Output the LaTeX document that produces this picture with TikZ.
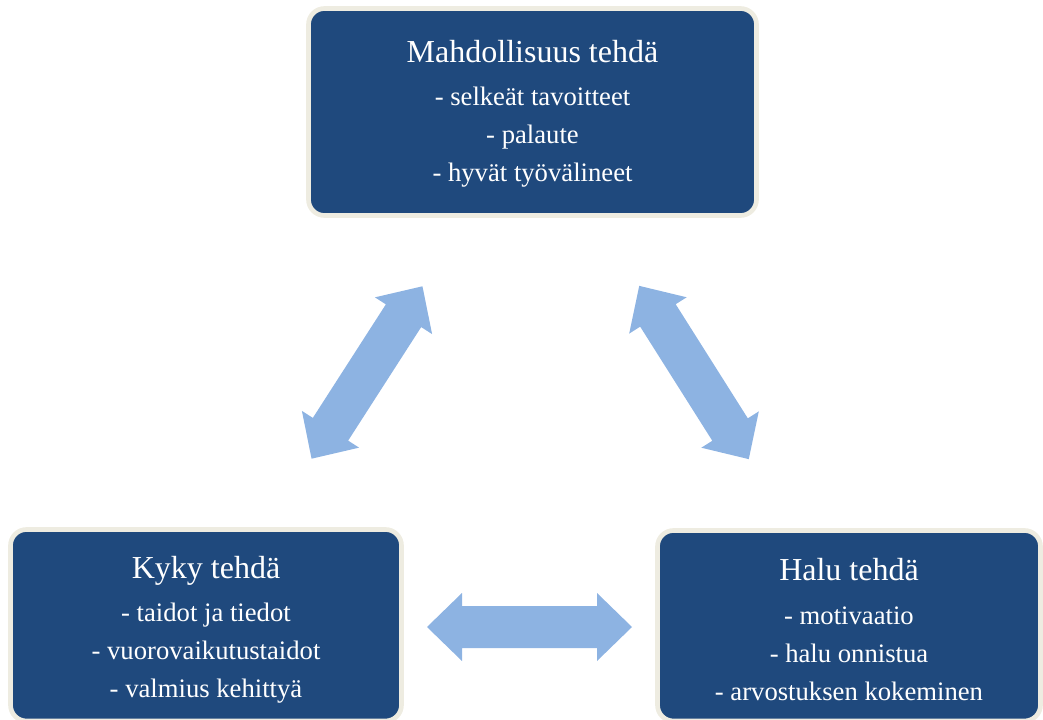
\documentclass[tikz,border=0pt]{standalone}
\usepackage{fontspec}
\setmainfont{Liberation Serif}
\definecolor{boxblue}{HTML}{1F497D}
\definecolor{boxrim}{HTML}{EEECE1}
\definecolor{arrowblue}{HTML}{8DB3E2}
\tikzset{
  infobox/.style={draw=boxrim, line width=3.5pt, fill=boxblue, rounded corners=12pt,
    inner sep=0pt},
  boxtext/.style={text=white, align=center, inner sep=0pt,
    font=\fontsize{20}{28.5}\selectfont},
  blockarrow/.style={fill=arrowblue, draw=none}
}
% double-headed block arrow: centre, rotation angle
\newcommand\twowayarrow[2]{%
  \fill[blockarrow, shift={#1}, rotate=#2]
    (-102.5,0) -- (-67.5,34) -- (-67.5,21) -- (67.5,21) -- (67.5,34) -- (102.5,0)
    -- (67.5,-34) -- (67.5,-21) -- (-67.5,-21) -- (-67.5,-34) -- cycle;}
\newcommand\boxtitle[1]{{\fontsize{24}{24}\selectfont #1}\\[4pt]}
\begin{document}
\begin{tikzpicture}[x=0.75pt, y=-0.75pt]
  \useasboundingbox (0,0) rectangle (1043,720);

  % the three boxes
  \node[infobox, minimum width=448*0.75pt, minimum height=207*0.75pt] (chance) at (532.5,112) {};
  \node[infobox, minimum width=391*0.75pt, minimum height=191.5*0.75pt] (ability) at (206,625.25) {};
  \node[infobox, minimum width=383*0.75pt, minimum height=190.5*0.75pt] (will) at (849,625.75) {};

  % their texts
  \node[boxtext] (chancetext) at (532.5,113.5)
    {\boxtitle{Mahdollisuus tehdä}- selkeät tavoitteet\\- palaute\\- hyvät työvälineet};
  \node[boxtext] (abilitytext) at (206,629.5)
    {\boxtitle{Kyky tehdä}- taidot ja tiedot\\- vuorovaikutustaidot\\- valmius kehittyä};
  \node[boxtext] (willtext) at (849,629.5)
    {\boxtitle{Halu tehdä}- motivaatio\\- halu onnistua\\- arvostuksen kokeminen};

  % two-way arrows between the boxes
  \twowayarrow{(367,372.5)}{57.25}
  \twowayarrow{(694,372.5)}{-57.7}
  \twowayarrow{(529.5,627)}{0}
\end{tikzpicture}
\end{document}
